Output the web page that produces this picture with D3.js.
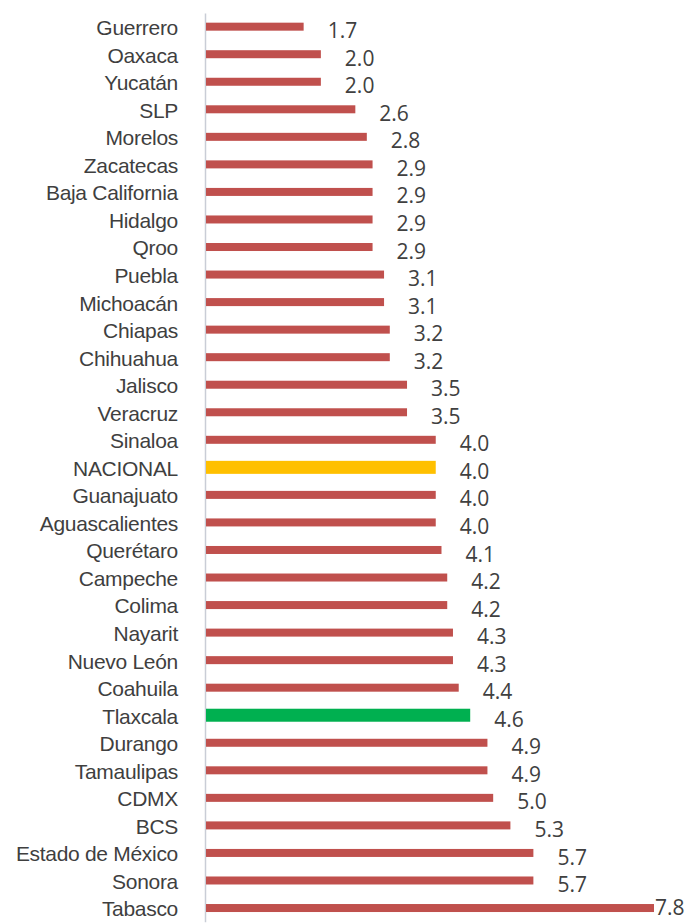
<!DOCTYPE html>
<html>
<head>
<meta charset="utf-8">
<script src="https://cdn.jsdelivr.net/npm/d3@7"></script>
<style>
  html, body { margin: 0; padding: 0; background: #fff; }
  svg { display: block; }
</style>
</head>
<body>
<svg id="chart" width="694" height="924"></svg>
<script>
// states sorted by value, top to bottom
const states = [
  'Guerrero', 'Oaxaca', 'Yucatán', 'SLP', 'Morelos', 'Zacatecas', 'Baja California',
  'Hidalgo', 'Qroo', 'Puebla', 'Michoacán', 'Chiapas', 'Chihuahua', 'Jalisco',
  'Veracruz', 'Sinaloa', 'NACIONAL', 'Guanajuato', 'Aguascalientes', 'Querétaro',
  'Campeche', 'Colima', 'Nayarit', 'Nuevo León', 'Coahuila', 'Tlaxcala', 'Durango',
  'Tamaulipas', 'CDMX', 'BCS', 'Estado de México', 'Sonora', 'Tabasco'
];
const values = [
  1.7, 2.0, 2.0, 2.6, 2.8, 2.9, 2.9,
  2.9, 2.9, 3.1, 3.1, 3.2, 3.2, 3.5,
  3.5, 4.0, 4.0, 4.0, 4.0, 4.1,
  4.2, 4.2, 4.3, 4.3, 4.4, 4.6, 4.9,
  4.9, 5.0, 5.3, 5.7, 5.7, 7.8
];
const highlight = { 'NACIONAL': '#ffc000', 'Tlaxcala': '#00b050' };
const barColor = '#c0504d';

const data = states.map((s, i) => ({ name: s, value: values[i] }));

const svg = d3.select('#chart');
const width = +svg.attr('width');

const x = d3.scaleLinear().domain([0, 7.8]).range([206, 654]);
const y = d3.scaleBand().domain(states).range([12.9, 921.8]).padding(0);

// category axis: only the domain line and the labels
const axis = svg.append('g')
  .attr('transform', 'translate(205,0)')
  .call(d3.axisLeft(y).tickSize(0).tickPadding(27));
axis.select('.domain').attr('stroke', '#c9cdd6').attr('stroke-width', 1.5);
axis.selectAll('.tick text')
  .attr('font-family', '"Liberation Sans", Arial, sans-serif')
  .attr('font-size', 21)
  .attr('letter-spacing', -0.3)
  .attr('fill', '#3f3f3f')
  .attr('dy', '0.4em');

const rowY = d => y(d.name) + y.bandwidth() / 2;

svg.append('g').selectAll('rect')
  .data(data)
  .join('rect')
  .attr('x', x(0))
  .attr('y', d => rowY(d) - (highlight[d.name] ? 6.5 : 4))
  .attr('width', d => x(d.value) - x(0))
  .attr('height', d => highlight[d.name] ? 13 : 8)
  .attr('fill', d => highlight[d.name] || barColor);

// value labels sit a little right of and below the bar end; the longest one hugs the edge
const labelMax = width - 39;
svg.append('g').selectAll('text')
  .data(data)
  .join('text')
  .attr('x', d => Math.min(x(d.value) + 24, labelMax))
  .attr('y', d => rowY(d) + (x(d.value) + 24 > labelMax ? -1 : 4))
  .attr('dy', '0.36em')
  .attr('font-family', '"Open Sans", "Noto Sans", sans-serif')
  .attr('font-size', 21)
  .attr('fill', '#404040')
  .text(d => d.value.toFixed(1));
</script>
</body>
</html>
